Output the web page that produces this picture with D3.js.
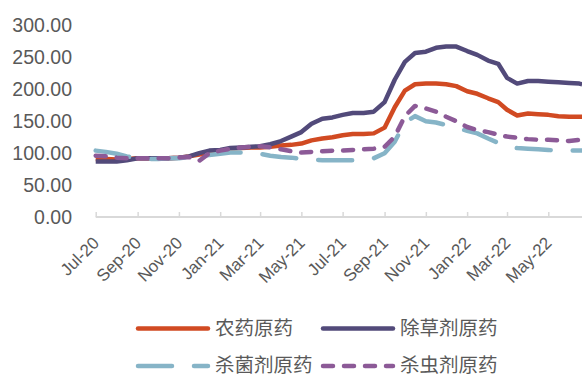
<!DOCTYPE html>
<html>
<head>
<meta charset="utf-8">
<script src="https://cdn.jsdelivr.net/npm/d3@7"></script>
<style>
  html, body { margin: 0; padding: 0; background: #fff; }
  svg { display: block; }
  text { font-family: "Liberation Sans", Arial, "Noto Sans CJK SC", sans-serif; fill: #595959; }
</style>
</head>
<body>
<svg id="chart" width="582" height="376"></svg>
<script>
// Semi-monthly observation dates
const dates = [
  "2020-07-01","2020-07-16","2020-08-01","2020-08-16","2020-09-01","2020-09-16",
  "2020-10-01","2020-10-16","2020-11-01","2020-11-16","2020-12-01","2020-12-16",
  "2021-01-01","2021-01-16","2021-02-01","2021-02-16","2021-03-01","2021-03-16",
  "2021-04-01","2021-04-16","2021-05-01","2021-05-16","2021-06-01","2021-06-16",
  "2021-07-01","2021-07-16","2021-08-01","2021-08-16","2021-09-01","2021-09-16",
  "2021-10-01","2021-10-16","2021-11-01","2021-11-16","2021-12-01","2021-12-16",
  "2022-01-01","2022-01-16","2022-02-01","2022-02-16","2022-03-01","2022-03-16",
  "2022-04-01","2022-04-16","2022-05-01","2022-05-16","2022-06-01","2022-06-16",
  "2022-06-20"
];

// Price indices
const pesticideTech = [
  91,91,90,91,92,92,92,92,93,95,
  98,101,104,107,108,109,109,110,112,113,
  115,120,123,125,128,130,130,131,140,172,
  198,208,209,209,208,205,197,193,186,180,
  168,159,162,161,160,158,157,157,157
];
const herbicideTech = [
  87,87,87,89,92,92,92,92,93,95,
  100,104,105,108,109,110,111,114,119,126,
  133,146,154,156,160,163,163,165,180,215,
  243,257,259,265,267,267,260,254,245,240,
  218,209,213,213,212,211,210,209,208
];
const fungicideTech = [
  104,102,99,95,92,91,91,92,92,94,
  96,97,99,101,101,100,99,96,94,93,
  91,90,89,89,89,89,90,92,100,118,
  148,158,150,148,144,140,135,131,123,116,
  110,108,107,106,105,104,104,104,104
];
const insecticideTech = [
  96,95,93,92,92,92,92,92,93,94,
  88,100,104,107,109,110,111,109,106,103,
  101,102,103,104,104,105,106,107,110,126,
  158,174,170,165,157,150,141,136,133,129,
  126,124,122,121,121,120,119,121,124
];

const seriesNames = ["农药原药", "除草剂原药", "杀菌剂原药", "杀虫剂原药"];
const yTicks = [0, 50, 100, 150, 200, 250, 300];

const parse = d3.timeParse("%Y-%m-%d");
const times = dates.map(parse);

const series = [
  { name: seriesNames[0], values: pesticideTech,   color: "#d14a22", dash: null },
  { name: seriesNames[1], values: herbicideTech,   color: "#524a7a", dash: null },
  { name: seriesNames[2], values: fungicideTech,   color: "#86b4c7", dash: "34,22" },
  { name: seriesNames[3], values: insecticideTech, color: "#8c5a97", dash: "10,11" }
];

const svg = d3.select("#chart");

const x = d3.scaleTime()
  .domain([parse("2020-07-01"), parse("2022-05-01")])
  .range([95.7, 548.3]);
const y = d3.scaleLinear().domain([0, 300]).range([217, 25.5]);

// Y axis: labels only
const yAxis = svg.append("g")
  .attr("transform", "translate(74,0)")
  .call(d3.axisLeft(y).tickValues(yTicks).tickSize(0).tickPadding(2).tickFormat(d3.format(".2f")));
yAxis.select(".domain").remove();
yAxis.selectAll("text")
  .style("font-size", "19.5px")
  .style("fill", "#595959");

// X axis
const xTickValues = d3.timeMonth.every(2).range(parse("2020-07-01"), parse("2022-05-02"));
const xAxis = svg.append("g")
  .attr("transform", `translate(0,${y(0)})`)
  .call(d3.axisBottom(x).tickValues(xTickValues).tickSize(-5).tickFormat(d3.timeFormat("%b-%y")));
xAxis.select(".domain").remove();
xAxis.insert("line", ":first-child")
  .attr("x1", x(parse("2020-07-01"))).attr("x2", 582)
  .attr("y1", 0).attr("y2", 0)
  .attr("stroke", "#d9d9d9").attr("stroke-width", 2);
xAxis.selectAll(".tick line").attr("stroke", "#d9d9d9").attr("stroke-width", 1.5);
xAxis.selectAll(".tick text")
  .attr("y", 0).attr("dy", 0)
  .attr("transform", "translate(4,27) rotate(-45)")
  .attr("text-anchor", "end")
  .style("font-size", "17px")
  .style("fill", "#595959");

// Series lines
const line = d3.line()
  .x((d, i) => x(times[i]))
  .y(d => y(d));

svg.append("g").selectAll("path")
  .data(series)
  .join("path")
  .attr("d", s => line(s.values))
  .attr("fill", "none")
  .attr("stroke", s => s.color)
  .attr("stroke-width", 4.5)
  .attr("stroke-linejoin", "round")
  .attr("stroke-linecap", s => s.dash ? "round" : "butt")
  .attr("stroke-dasharray", s => s.dash);

// Legend (2 x 2)
const legendPos = [
  { lx: 138, ly: 328.5 }, { lx: 323, ly: 328.5 },
  { lx: 138, ly: 366 },   { lx: 323, ly: 366 }
];
const legend = svg.append("g");
series.forEach((s, i) => {
  const p = legendPos[i];
  legend.append("line")
    .attr("x1", p.lx).attr("x2", p.lx + 70)
    .attr("y1", p.ly).attr("y2", p.ly)
    .attr("stroke", s.color)
    .attr("stroke-width", 4.5)
    .attr("stroke-linecap", "round")
    .attr("stroke-dasharray", s.dash);
  legend.append("text")
    .attr("x", p.lx + 77)
    .attr("y", p.ly)
    .attr("dy", "0.33em")
    .style("font-size", "19.5px")
    .text(s.name);
});
</script>
</body>
</html>
